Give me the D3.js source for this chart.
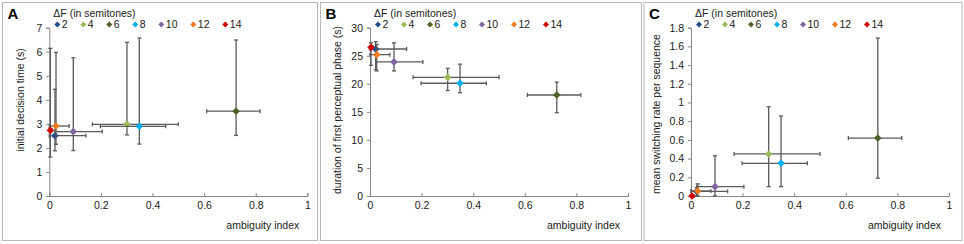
<!DOCTYPE html>
<html>
<head>
<meta charset="utf-8">
<script src="https://cdn.jsdelivr.net/npm/d3@7"></script>
<style>
  body { margin: 0; background: #fff; }
  text { font-family: "Liberation Sans", Arial, sans-serif; }
</style>
</head>
<body>
<div id="chart"></div>
<script>
// series (delta F in semitones)
const semitones = ["2", "4", "6", "8", "10", "12", "14"];
const seriesColors = ["#1f4e8c", "#9bbb59", "#4f6228", "#00b0f0", "#8064a2", "#f07a1c", "#d00000"];

// ambiguity index, shared by all three panels
const ambiguity     = [0.022, 0.301, 0.724, 0.349, 0.093, 0.026, 0.004];
const ambiguityLow  = [0.0,   0.167, 0.610, 0.198, 0.022, 0.0,   0.0];
const ambiguityHigh = [0.142, 0.500, 0.817, 0.451, 0.205, 0.077, 0.012];

// panel A
const decisionTime     = [2.51, 2.98, 3.53, 2.90, 2.68, 2.91, 2.73];
const decisionTimeLow  = [1.88, 2.54, 2.52, 2.16, 1.89, 2.15, 1.62];
const decisionTimeHigh = [4.44, 6.39, 6.49, 6.57, 5.75, 5.97, 6.14];

// panel B
const phaseDuration     = [26.2, 21.15, 18.0, 20.1, 23.9, 25.2, 26.5];
const phaseDurationLow  = [22.5, 18.8, 14.85, 18.4, 22.3, 22.3, 23.3];
const phaseDurationHigh = [27.5, 22.75, 20.3, 23.5, 27.3, 27.0, 27.3];

// panel C
const switchRate     = [0.05, 0.45, 0.62, 0.35, 0.10, 0.053, 0.0];
const switchRateLow  = [0.0,  0.10, 0.19, 0.10, 0.0,  0.0,   0.0];
const switchRateHigh = [0.09, 0.955, 1.69, 0.855, 0.43, 0.13, 0.0];

// axis ticks
const xTicks = [0, 0.2, 0.4, 0.6, 0.8, 1];
const yTicksA = [0, 1, 2, 3, 4, 5, 6, 7];
const yTicksB = [0, 5, 10, 15, 20, 25, 30];
const yTicksC = [0, 0.2, 0.4, 0.6, 0.8, 1, 1.2, 1.4, 1.6, 1.8];

const panels = [
  {letter: "A", frame: [2.5, 2.5, 315, 238], x0: 49.3, yTitle: "initial decision time (s)",
   titleX: 20.7, titleY: 100, ticks: yTicksA, max: 7,
   y: decisionTime, lo: decisionTimeLow, hi: decisionTimeHigh},
  {letter: "B", frame: [320.5, 2.5, 321, 238], x0: 370, yTitle: "duration of first perceptual phase (s)",
   titleX: 337, titleY: 110, ticks: yTicksB, max: 30,
   y: phaseDuration, lo: phaseDurationLow, hi: phaseDurationHigh},
  {letter: "C", frame: [644, 2.5, 318, 238], x0: 691, yTitle: "mean switching rate per sequence",
   titleX: 656.7, titleY: 114, ticks: yTicksC, max: 1.8,
   y: switchRate, lo: switchRateLow, hi: switchRateHigh}
];

const W = 964, H = 244;
const plotW = 258, plotTop = 27.7, plotBottom = 196;
const axisColor = "#868686", barColor = "#5a5a5a";

const svg = d3.select("#chart").append("svg")
  .attr("width", W).attr("height", H);

function diamond(r) {
  return `M0,${-r}L${r},0L0,${r}L${-r},0Z`;
}

panels.forEach(function(p) {
  const g = svg.append("g");

  // panel frame
  g.append("rect")
    .attr("x", p.frame[0]).attr("y", p.frame[1])
    .attr("width", p.frame[2]).attr("height", p.frame[3])
    .attr("fill", "none").attr("stroke", "#b8b8b8").attr("stroke-width", 1);

  const x = d3.scaleLinear().domain([0, 1]).range([p.x0, p.x0 + plotW]);
  const y = d3.scaleLinear().domain([0, p.max]).range([plotBottom, plotTop]);

  // y axis
  const yAxis = g.append("g")
    .attr("transform", `translate(${p.x0},0)`)
    .call(d3.axisLeft(y).tickValues(p.ticks).tickSize(3).tickPadding(4)
      .tickFormat(d => d3.format("~g")(d)));
  // x axis
  const xAxis = g.append("g")
    .attr("transform", `translate(0,${plotBottom})`)
    .call(d3.axisBottom(x).tickValues(xTicks).tickSize(-3).tickPadding(6)
      .tickFormat(d => d3.format("~g")(d)));
  [xAxis, yAxis].forEach(function(a) {
    a.select(".domain").attr("stroke", axisColor);
    a.selectAll(".tick line").attr("stroke", axisColor);
    a.selectAll(".tick text").attr("fill", "#1a1a1a")
      .style("font-size", "10.5px").style("font-family", "Liberation Sans, Arial, sans-serif");
  });

  // titles
  g.append("text")
    .attr("x", p.frame[0] + 5).attr("y", 19.3)
    .style("font-size", "15px").style("font-weight", "bold")
    .text(p.letter);
  g.append("text")
    .attr("x", p.x0 + 250).attr("y", 229)
    .attr("text-anchor", "end")
    .style("font-size", "10.5px").attr("fill", "#1a1a1a")
    .text("ambiguity index");
  g.append("text")
    .attr("transform", `translate(${p.titleX},${p.titleY}) rotate(-90)`)
    .attr("text-anchor", "middle").attr("dy", "0.35em")
    .style("font-size", "10.5px").attr("fill", "#1a1a1a")
    .text(p.yTitle);

  // legend
  g.append("text")
    .attr("x", p.x0 + 4).attr("y", 16.5)
    .style("font-size", "10.5px").attr("fill", "#1a1a1a")
    .text("\u0394F (in semitones)");
  let lx = p.x0 + 8;
  semitones.forEach(function(s, i) {
    g.append("path")
      .attr("d", diamond(3))
      .attr("transform", `translate(${lx},24.5)`)
      .attr("fill", seriesColors[i]);
    g.append("text")
      .attr("x", lx + 4.5).attr("y", 28.3)
      .style("font-size", "10.5px").attr("fill", "#1a1a1a")
      .text(s);
    lx += 20 + 6 * s.length;
  });

  // series: error bars then marker, in order
  semitones.forEach(function(s, i) {
    const sg = g.append("g");
    const cx = x(ambiguity[i]), cy = y(p.y[i]);
    const bar = (x1, y1, x2, y2) => sg.append("line")
      .attr("x1", x1).attr("y1", y1).attr("x2", x2).attr("y2", y2)
      .attr("stroke", barColor).attr("stroke-width", 1.3);
    const cap = 2;
    // horizontal
    const xl = x(ambiguityLow[i]), xh = x(ambiguityHigh[i]);
    if (xh - xl > 0.5) {
      bar(xl, cy, xh, cy);
      bar(xl, cy - cap, xl, cy + cap);
      bar(xh, cy - cap, xh, cy + cap);
    }
    // vertical
    const yl = y(p.lo[i]), yh = y(p.hi[i]);
    if (yl - yh > 0.5) {
      bar(cx, yl, cx, yh);
      bar(cx - cap, yl, cx + cap, yl);
      bar(cx - cap, yh, cx + cap, yh);
    }
    sg.append("path")
      .attr("d", diamond(3.8))
      .attr("transform", `translate(${cx},${cy})`)
      .attr("fill", seriesColors[i]);
  });
});
</script>
</body>
</html>
